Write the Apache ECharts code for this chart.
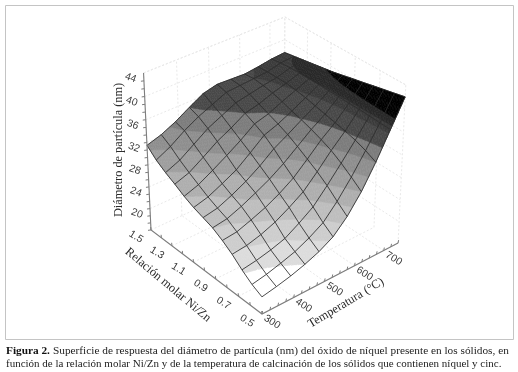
<!DOCTYPE html>
<html><head><meta charset="utf-8">
<style>html,body{margin:0;padding:0;background:#fff}#c{width:518px;height:372px;filter:blur(0.35px)}</style>
<script src="https://cdn.jsdelivr.net/npm/echarts@6/dist/echarts.min.js"></script>
</head><body><div id="c"></div>
<script>
// ---- data ----
const tempNodes = [300,345,390,435,480,525,570,615,660,705,750];
const ratioNodes = [0.5,0.583,0.667,0.75,0.833,0.917,1.0,1.083,1.167,1.25,1.333,1.417,1.5];
const diam050 = [19.1,19.6,20.2,21,22,23.4,25.8,29,33,37.5,42];
const diam058 = [20,20.5,21.2,22,23.2,24.7,27.3,30.4,33.9,37.6,41.6];
const diam067 = [21.3,21.7,22.3,23.1,24.6,26.3,28.9,31.7,34.6,37.7,41.2];
const diam075 = [22.8,23.1,23.8,24.8,26.2,27.8,30.2,32.8,35.1,37.8,40.8];
const diam083 = [24,24.3,25.2,26.2,27.5,29.1,31.3,33.6,35.5,37.8,40.4];
const diam092 = [25,25.4,26.4,27.6,28.9,30.5,32.4,34.3,35.9,37.9,40];
const diam100 = [25.6,26.1,27.2,28.5,30.1,32,33.4,34.9,36.3,37.9,39.6];
const diam108 = [26.2,26.9,28.1,29.4,31.3,33.3,34.2,35.4,36.7,38,39.2];
const diam117 = [27,27.9,29.3,30.8,32.4,34.2,34.9,36,37,38,38.9];
const diam125 = [28,28.9,30.5,32.2,33.5,35,35.6,36.5,37.2,38,38.6];
const diam133 = [28.9,30,31.7,33.4,34.6,35.8,36.3,36.8,37.2,37.9,38.3];
const diam142 = [30,31.3,33,34.4,35.5,36.6,36.8,37,37.2,37.8,38];
const diam150 = [31.5,32.3,33.5,35,36.4,37,36.9,36.8,37.1,37.5,37.7];
const diamRows = [diam050,diam058,diam067,diam075,diam083,diam092,diam100,diam108,diam117,diam125,diam133,diam142,diam150];
const tempTicks = [300,400,500,600,700];
const ratioTicks = [0.5,0.7,0.9,1.1,1.3,1.5];
const diamTicks = [44,40,36,32,28,24,20];
const bandLevels = [16,21,23,25,27,29,31,33,35,37,38,39,44];
const bandGreys = ['#ffffff','#dcdcdc','#cdcdcd','#bebebe','#aeaeae','#9e9e9e','#8e8e8e','#7c7c7c','#484848','#3a3a3a','#282828','#000000'];

// ---- axis ranges and the perspective view of the box ----
const T0=300,T1=750,R0=0.5,R1=1.5,Z0=16,Z1=44;
const view={a:0.0627,b:0.0752,c:-0.0619,vt:[2568,-888],vr:[-1325,-888],vz:[273,2800],o:[262,314]};
function project(t,r,z){
  const u=(t-T0)/(T1-T0),v=(r-R0)/(R1-R0),w=(z-Z0)/(Z1-Z0);
  const d=view.a*u+view.b*v+view.c*w+1;
  const f=i=>(view.a*view.vt[i]*u+view.b*view.vr[i]*v+view.c*view.vz[i]*w+view.o[i])/d;
  return [f(0),f(1)];
}
function clipBand(tri,lo,hi){
  let poly=tri;
  for(const [lim,sign] of [[lo,1],[hi,-1]]){
    const out=[];
    for(let i=0;i<poly.length;i++){
      const a=poly[i],b=poly[(i+1)%poly.length];
      const da=(a[2]-lim)*sign,db=(b[2]-lim)*sign;
      if(da>=0)out.push(a);
      if((da>=0)!==(db>=0)){const s=da/(da-db);out.push([a[0]+(b[0]-a[0])*s,a[1]+(b[1]-a[1])*s,a[2]+(b[2]-a[2])*s]);}
    }
    poly=out; if(!poly.length)break;
  }
  return poly;
}
const line=(api,pts,stroke,width,dash)=>({type:'polyline',silent:true,
  shape:{points:pts.map(p=>api.coord(p))},style:{stroke,lineWidth:width,fill:null,lineDash:dash||null}});
const label=(api,p,text,deg,font,fill)=>{const c=api.coord(p);return {type:'text',x:c[0],y:c[1],rotation:deg*Math.PI/180,silent:true,
  style:{text,x:0,y:0,align:'center',verticalAlign:'middle',font,fill:fill||'#3a3a3a'}};};

function renderBox(params,api){
  const ch=[],wall='#e9e9e9',dash=[2,2];
  const seg=(a,b)=>ch.push(line(api,[a,b],wall,1,dash));
  diamTicks.forEach(z=>{
    ch.push(line(api,[project(T0,R1,z),project(T1,R1,z),project(T1,R0,z)],wall,1,dash));});
  tempTicks.forEach(t=>{seg(project(t,R1,Z0),project(t,R1,Z1));seg(project(t,R0,Z0),project(t,R1,Z0));});
  ratioTicks.forEach(r=>{seg(project(T1,r,Z0),project(T1,r,Z1));seg(project(T0,r,Z0),project(T1,r,Z0));});
  seg(project(T1,R1,Z0),project(T1,R1,Z1));
  seg(project(T0,R1,Z1),project(T1,R1,Z1));seg(project(T1,R1,Z1),project(T1,R0,Z1));
  return {type:'group',children:ch};
}
function renderSurface(params,api){
  const i=api.value(0),j=api.value(1),n=4,ch=[];
  const z=(a,b)=>{const r=diamRows;return (1-a)*(1-b)*r[j][i]+a*(1-b)*r[j][i+1]+(1-a)*b*r[j+1][i]+a*b*r[j+1][i+1];};
  const P=(a,b)=>{
    const t=tempNodes[i]+(tempNodes[i+1]-tempNodes[i])*a,r=ratioNodes[j]+(ratioNodes[j+1]-ratioNodes[j])*b,zz=z(a,b);
    const c=api.coord(project(t,r,zz));return [c[0],c[1],zz];};
  for(let q=n-1;q>=0;q--)for(let p=n-1;p>=0;p--){
    const A=P(p/n,q/n),B=P((p+1)/n,q/n),C=P((p+1)/n,(q+1)/n),D=P(p/n,(q+1)/n);
    for(const tri of [[A,B,C],[A,C,D]]){
      const lo=Math.min(tri[0][2],tri[1][2],tri[2][2]),hi=Math.max(tri[0][2],tri[1][2],tri[2][2]);
      for(let k=0;k<bandGreys.length;k++){
        if(bandLevels[k+1]<lo||bandLevels[k]>hi)continue;
        const poly=clipBand(tri,bandLevels[k],bandLevels[k+1]);
        if(poly.length>2)ch.push({type:'polygon',silent:true,shape:{points:poly.map(v=>[v[0],v[1]])},
          style:{fill:bandGreys[k],stroke:bandGreys[k],lineWidth:0.6}});
      }
    }
  }
  return {type:'group',children:ch};
}
function renderMesh(params,api){
  const ch=[],col='#2c2c2c';
  diamRows.forEach((row,j)=>ch.push(line(api,row.map((z,i)=>project(tempNodes[i],ratioNodes[j],z)),col,0.85)));
  tempNodes.forEach((t,i)=>ch.push(line(api,diamRows.map((row,j)=>project(t,ratioNodes[j],row[i])),col,0.85)));
  return {type:'group',children:ch};
}
function renderAxes(params,api){
  const ch=[],col='#7d7d7d',sans='10.4px "Liberation Sans"',serif='12.3px "Liberation Serif"';
  ch.push(line(api,[project(T1,R0,Z0),project(T0,R0,Z0),project(T0,R1,Z0),project(T0,R1,Z1)],col,1.1));
  for(let t=T0;t<=T1;t+=25){const a=project(t,R0,Z0);ch.push(line(api,[a,[a[0]+0.6,a[1]-3]],col,1));}
  for(let k=0;k<=10;k++){const a=project(T0,R0+k*0.1,Z0);ch.push(line(api,[a,[a[0]-0.3,a[1]-3]],col,1));}
  for(let z=Z0;z<=Z1;z+=4/3){const a=project(T0,R1,z);ch.push(line(api,[a,[a[0]-3,a[1]+0.4]],col,1));}
  tempTicks.forEach(t=>{const a=project(t,R0,Z0);ch.push(label(api,[a[0]+10,a[1]+8],String(t),-32,sans));});
  ratioTicks.forEach(r=>{const a=project(T0,r,Z0);ch.push(label(api,[a[0]-15,a[1]+7],r.toFixed(1),-32,sans));});
  diamTicks.forEach(z=>{const a=project(T0,R1,z);ch.push(label(api,[a[0]-13,a[1]+5],String(z),-20,sans));});
  ch.push(label(api,[119,150],'Diámetro de partícula (nm)',90,serif,'#2a2a2a'));
  ch.push(label(api,[168,285],'Relación molar Ni/Zn',-40,serif,'#2a2a2a'));
  ch.push(label(api,[346,303],'Temperatura (°C)',31,serif,'#2a2a2a'));
  return {type:'group',children:ch};
}
const cells=[];
for(let j=ratioNodes.length-2;j>=0;j--)for(let i=tempNodes.length-2;i>=0;i--)cells.push([i,j]);
const one=[[0,0]];
const capY1=351,capY2=364.5;
const chart=echarts.init(document.getElementById('c'),null,{renderer:'canvas'});
chart.setOption({
  animation:false,backgroundColor:'#fff',
  grid:{left:0,right:0,top:0,bottom:0},
  xAxis:{type:'value',min:0,max:518,show:false},
  yAxis:{type:'value',min:0,max:372,inverse:true,show:false},
  series:[
    {type:'custom',data:one,renderItem:renderBox,clip:false,silent:true,z:1},
    {type:'custom',data:cells,renderItem:renderSurface,clip:false,silent:true,z:2},
    {type:'custom',data:one,renderItem:renderMesh,clip:false,silent:true,z:3},
    {type:'custom',data:one,renderItem:renderAxes,clip:false,silent:true,z:4}
  ],
  graphic:[
    {type:'rect',shape:{x:5.5,y:5.5,width:508,height:334},style:{fill:null,stroke:'#c4c4c4',lineWidth:1},silent:true},
    {type:'text',x:6,y:capY1,style:{text:'Figura 2.',font:'bold 11.3px "Liberation Serif"',fill:'#111',verticalAlign:'middle'}},
    {type:'text',x:53,y:capY1,style:{text:'Superficie de respuesta del diámetro de partícula (nm) del óxido de níquel presente en los sólidos, en',font:'11.3px "Liberation Serif"',fill:'#222',verticalAlign:'middle'}},
    {type:'text',x:6,y:capY2,style:{text:'función de la relación molar Ni/Zn y de la temperatura de calcinación de los sólidos que contienen níquel y cinc.',font:'11px "Liberation Serif"',fill:'#222',verticalAlign:'middle'}}
  ]
});
</script></body></html>
